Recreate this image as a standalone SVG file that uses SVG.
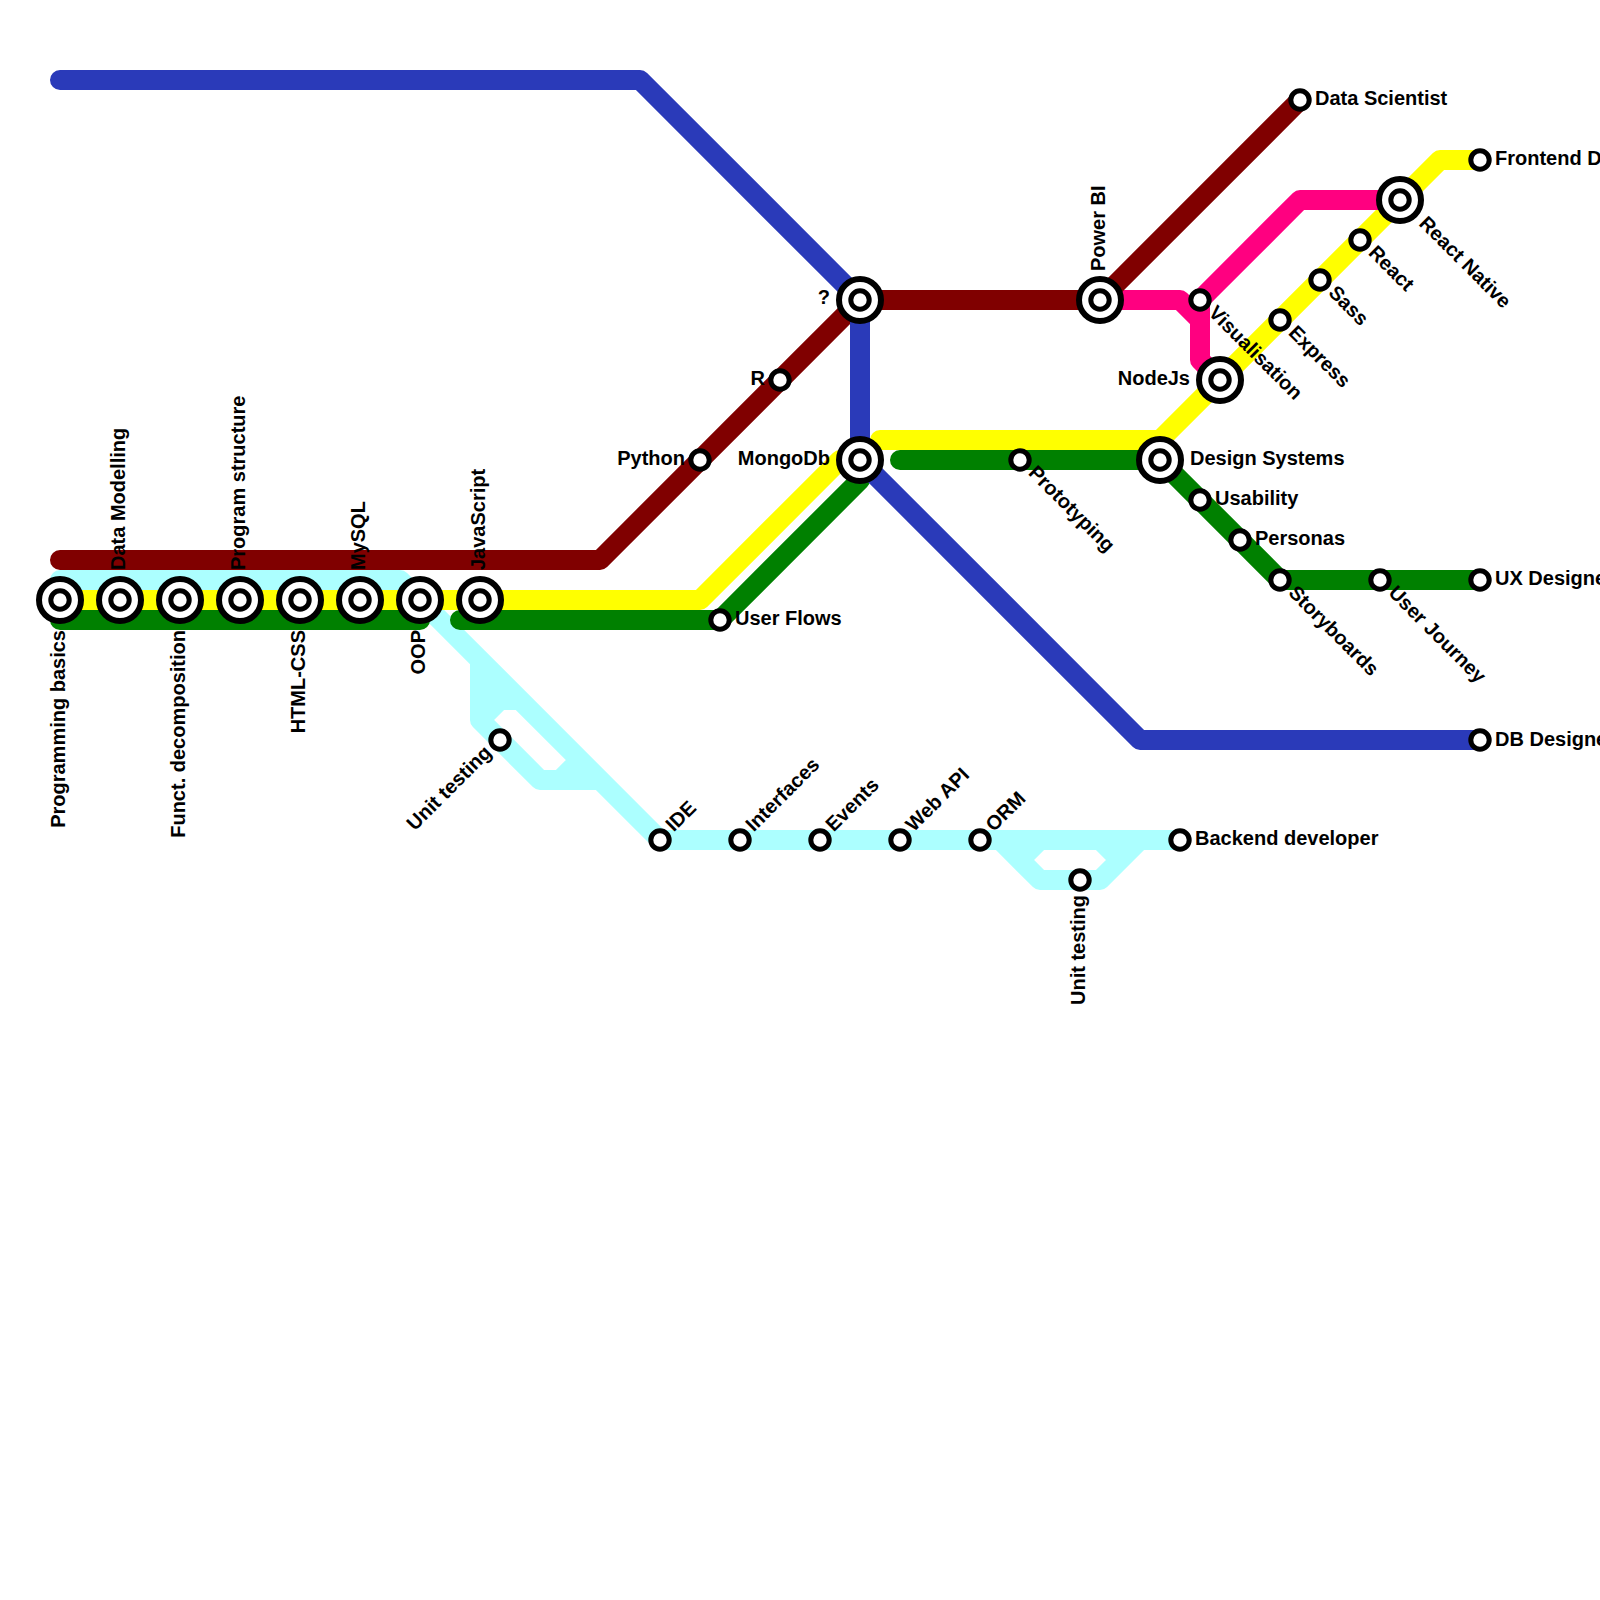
<svg xmlns="http://www.w3.org/2000/svg" width="1600" height="1600" viewBox="0 0 1600 1600">
<defs><style>
.l{fill:none;stroke-width:20;stroke-linecap:round;stroke-linejoin:round}
.o{fill:#fff;stroke:#000;stroke-width:6}
.i{fill:#fff;stroke:#000;stroke-width:5}
text{font-family:"Liberation Sans",Arial,sans-serif;font-weight:bold;font-size:20px;fill:#000}
.e{text-anchor:end}
</style>
<g id="big"><circle class="o" r="21"/><circle class="i" r="9.2"/></g>
<circle id="small" class="i" r="9.2"/>
</defs>
<rect width="1600" height="1600" fill="#fff"/>
<g id="connectors">
<path class="l" stroke="#acffff" d="M60 580H400L660 840H1180M480 660V720L540 780H600M480 720L500 700H520M560 780L580 760M1000 840L1040 880H1100L1140 840M1020 860L1040 840M1100 840L1120 860"/>
<path fill="#acffff" d="M480 660L520 700L500 700L480 720Z"/>
<path class="l" stroke="#ffff00" d="M60 600H700L840 460M880 440H1160L1440 160H1480"/>
<path class="l" stroke="#008000" d="M60 620H420M460 620H720L860 480M900 460H1160L1280 580H1480"/>
<path class="l" stroke="#ff0080" d="M1100 300H1180L1200 320V360L1220 380M1200 320V300L1300 200H1400"/>
<path class="l" stroke="#800000" d="M60 560H600L860 300H1100L1300 100"/>
<path class="l" stroke="#2a3ab9" d="M60 80H640L860 300V460L1140 740H1480"/>
</g>
<g id="n-programming"><use href="#big" x="60" y="600"/><text transform="translate(65 630) rotate(-90)" class="e">Programming basics</text></g>
<g id="n-datamodelling"><use href="#big" x="120" y="600"/><text transform="translate(125 570) rotate(-90)">Data Modelling</text></g>
<g id="n-funct"><use href="#big" x="180" y="600"/><text transform="translate(185 630) rotate(-90)" class="e">Funct. decomposition</text></g>
<g id="n-program"><use href="#big" x="240" y="600"/><text transform="translate(245 570) rotate(-90)">Program structure</text></g>
<g id="n-html"><use href="#big" x="300" y="600"/><text transform="translate(305 630) rotate(-90)" class="e">HTML-CSS</text></g>
<g id="n-mysql"><use href="#big" x="360" y="600"/><text transform="translate(365 570) rotate(-90)">MySQL</text></g>
<g id="n-oop"><use href="#big" x="420" y="600"/><text transform="translate(425 630) rotate(-90)" class="e">OOP</text></g>
<g id="n-js"><use href="#big" x="480" y="600"/><text transform="translate(485 570) rotate(-90)">JavaScript</text></g>
<g id="n-unit1"><use href="#small" x="500" y="740"/><text transform="translate(492.6 753.8) rotate(-45)" class="e">Unit testing</text></g>
<g id="n-ide"><use href="#small" x="660" y="840"/><text transform="translate(673.8 832.6) rotate(-45)">IDE</text></g>
<g id="n-interfaces"><use href="#small" x="740" y="840"/><text transform="translate(753.8 832.6) rotate(-45)">Interfaces</text></g>
<g id="n-events"><use href="#small" x="820" y="840"/><text transform="translate(833.8 832.6) rotate(-45)">Events</text></g>
<g id="n-webapi"><use href="#small" x="900" y="840"/><text transform="translate(913.8 832.6) rotate(-45)">Web API</text></g>
<g id="n-orm"><use href="#small" x="980" y="840"/><text transform="translate(993.8 832.6) rotate(-45)">ORM</text></g>
<g id="n-unit2"><use href="#small" x="1080" y="880"/><text transform="translate(1085 895) rotate(-90)" class="e">Unit testing</text></g>
<g id="n-backend"><use href="#small" x="1180" y="840"/><text x="1195" y="845">Backend developer</text></g>
<g id="n-userflows"><use href="#small" x="720" y="620"/><text x="735" y="625">User Flows</text></g>
<g id="n-python"><use href="#small" x="700" y="460"/><text x="685" y="465" class="e">Python</text></g>
<g id="n-r"><use href="#small" x="780" y="380"/><text x="765" y="385" class="e">R</text></g>
<g id="n-q"><use href="#big" x="860" y="300"/><text x="830" y="304" class="e">?</text></g>
<g id="n-mongo"><use href="#big" x="860" y="460"/><text x="830" y="465" class="e">MongoDb</text></g>
<g id="n-prototyping"><use href="#small" x="1020" y="460"/><text transform="translate(1027.4 473.8) rotate(45)">Prototyping</text></g>
<g id="n-powerbi"><use href="#big" x="1100" y="300"/><text transform="translate(1105 271) rotate(-90)">Power BI</text></g>
<g id="n-datasci"><use href="#small" x="1300" y="100"/><text x="1315" y="105">Data Scientist</text></g>
<g id="n-vis"><use href="#small" x="1200" y="300"/><text transform="translate(1207.4 313.8) rotate(45)">Visualisation</text></g>
<g id="n-nodejs"><use href="#big" x="1220" y="380"/><text x="1190" y="385" class="e">NodeJs</text></g>
<g id="n-design"><use href="#big" x="1160" y="460"/><text x="1190" y="465">Design Systems</text></g>
<g id="n-express"><use href="#small" x="1280" y="320"/><text transform="translate(1287.4 333.8) rotate(45)">Express</text></g>
<g id="n-sass"><use href="#small" x="1320" y="280"/><text transform="translate(1327.4 293.8) rotate(45)">Sass</text></g>
<g id="n-react"><use href="#small" x="1360" y="240"/><text transform="translate(1367.4 253.8) rotate(45)">React</text></g>
<g id="n-reactnative"><use href="#big" x="1400" y="200"/><text transform="translate(1418 224.4) rotate(45)">React Native</text></g>
<g id="n-frontend"><use href="#small" x="1480" y="160"/><text x="1495" y="165">Frontend Developer</text></g>
<g id="n-usability"><use href="#small" x="1200" y="500"/><text x="1215" y="505">Usability</text></g>
<g id="n-personas"><use href="#small" x="1240" y="540"/><text x="1255" y="545">Personas</text></g>
<g id="n-storyboards"><use href="#small" x="1280" y="580"/><text transform="translate(1287.4 593.8) rotate(45)">Storyboards</text></g>
<g id="n-userjourney"><use href="#small" x="1380" y="580"/><text transform="translate(1387.4 593.8) rotate(45)">User Journey</text></g>
<g id="n-ux"><use href="#small" x="1480" y="580"/><text x="1495" y="585">UX Designer</text></g>
<g id="n-db"><use href="#small" x="1480" y="740"/><text x="1495" y="746">DB Designer</text></g>
</svg>
